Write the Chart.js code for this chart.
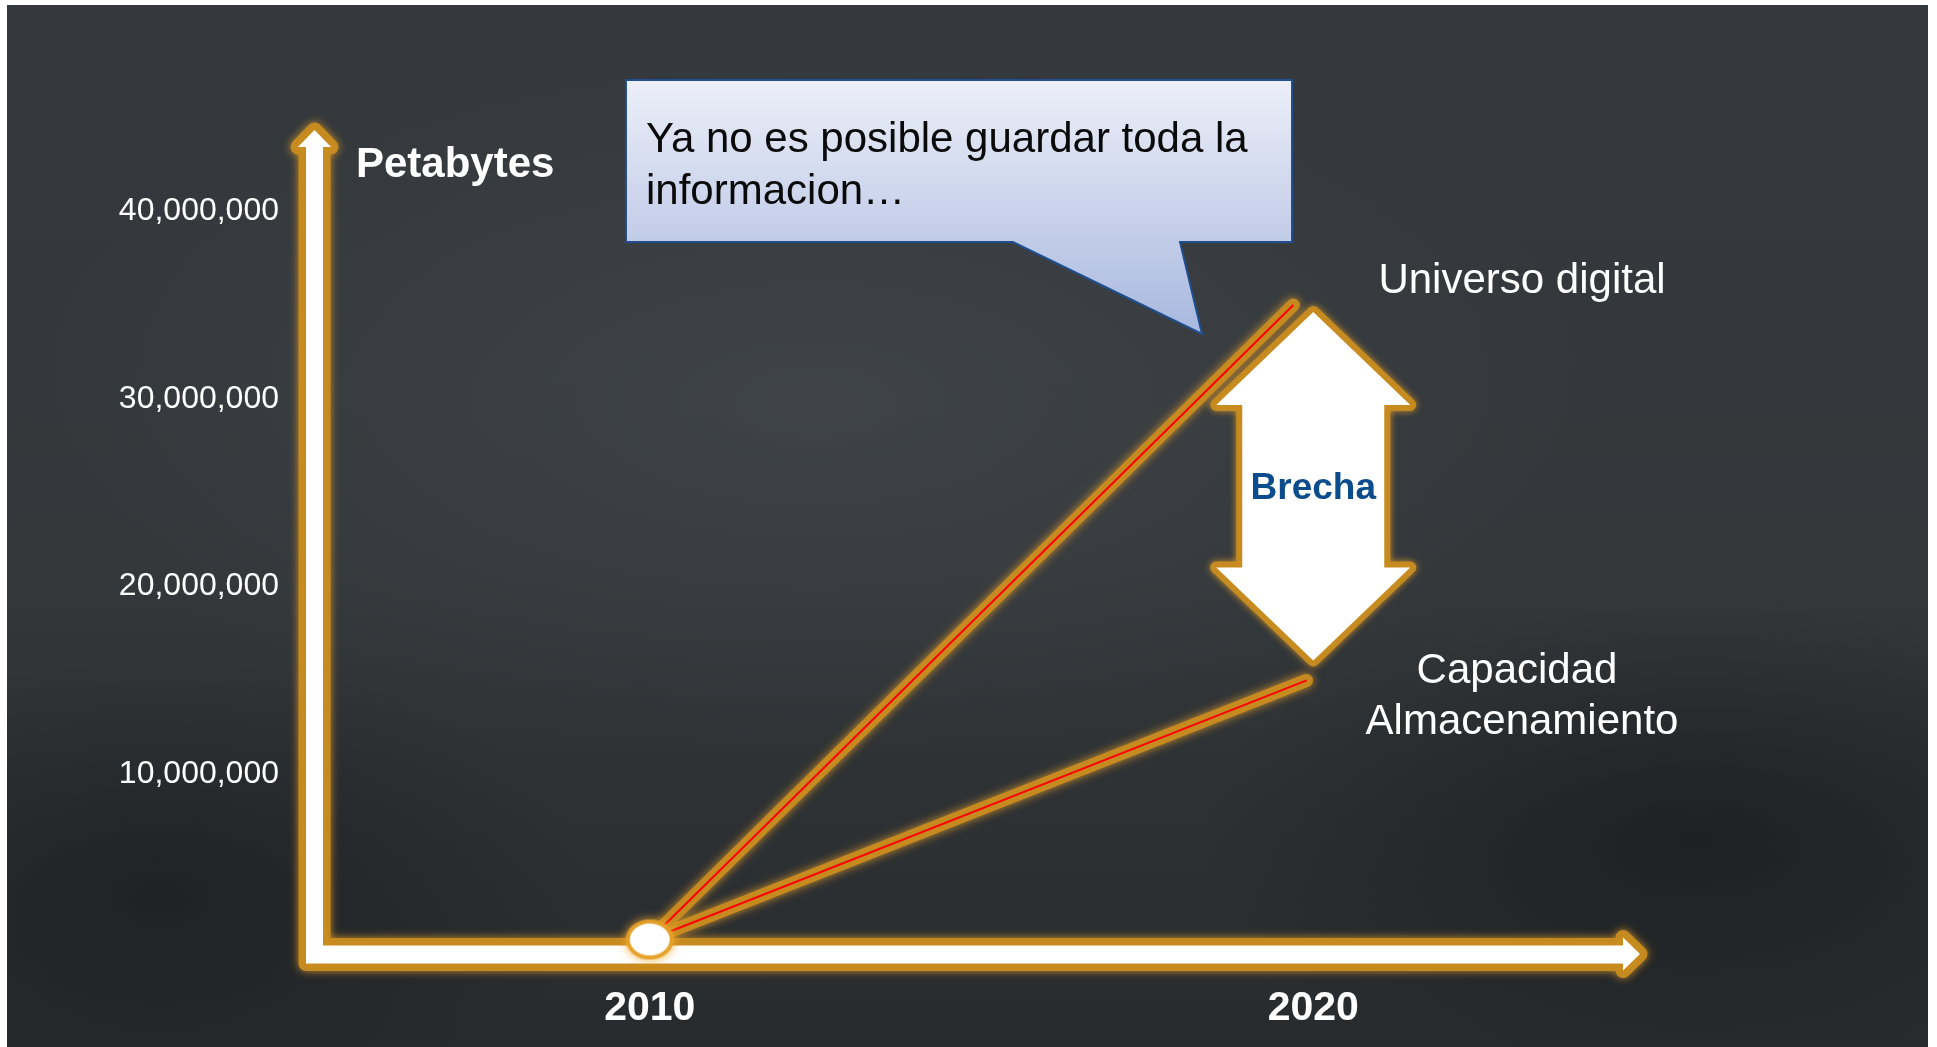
<!DOCTYPE html>
<html>
<head>
<meta charset="utf-8">
<title>Petabytes</title>
<script src="https://cdn.jsdelivr.net/npm/chart.js@4.4.1/dist/chart.umd.min.js"></script>
<style>
  html, body { margin: 0; padding: 0; background: #fff; overflow: hidden; }
  #board {
    position: absolute; left: 7px; top: 5px; width: 1921px; height: 1042px;
    background:
      radial-gradient(ellipse 55% 45% at 42% 38%, rgba(72,77,82,0.55), rgba(72,77,82,0) 75%),
      radial-gradient(ellipse 35% 30% at 88% 80%, rgba(18,20,22,0.55), rgba(18,20,22,0) 75%),
      radial-gradient(ellipse 30% 30% at 8% 85%, rgba(20,22,24,0.5), rgba(20,22,24,0) 75%),
      linear-gradient(180deg, #35393d 0%, #33373a 55%, #282b2e 100%);
  }
  #chart { position: absolute; left: 0; top: 0; }
</style>
</head>
<body>
<div id="board"></div>
<canvas id="chart" width="1937" height="1047"></canvas>
<script>
// values (petabytes)
const xTickYears = [2010, 2020];
const yTickValues = [10000000, 20000000, 30000000, 40000000];
const universoYears = [2010, 2019.7];
const universoPB = [1200000, 35000000];
const capacidadYears = [2010, 2019.9];
const capacidadPB = [1200000, 15000000];

const ORANGE = 'rgba(200,140,32,0.95)';
const FONT = '"Liberation Sans", Arial, sans-serif';

const toPoints = (xs, ys) => xs.map((x, i) => ({ x: x, y: ys[i] }));

// white dot with orange glow used as point style
const dot = document.createElement('canvas');
dot.width = 64; dot.height = 56;
(() => {
    const c = dot.getContext('2d');
    c.shadowColor = 'rgba(240,170,45,1)';
    c.shadowBlur = 10;
    c.beginPath();
    c.ellipse(32, 28, 20, 16, 0, 0, Math.PI * 2);
    c.strokeStyle = 'rgba(230,160,40,0.95)';
    c.lineWidth = 8;
    c.stroke();
    c.shadowBlur = 0;
    c.fillStyle = '#fff';
    c.fill();
})();

// shadow glow for datasets flagged with glow
const glowPlugin = {
    id: 'glow',
    beforeDatasetDraw(chart, args) {
        const ds = chart.data.datasets[args.index];
        if (ds.glow) {
            chart.ctx.save();
            chart.ctx.shadowColor = 'rgba(235,160,40,0.9)';
            chart.ctx.shadowBlur = 10;
        }
    },
    afterDatasetDraw(chart, args) {
        if (chart.data.datasets[args.index].glow) chart.ctx.restore();
    }
};

// the two white axis arrows
const axesArrows = {
    id: 'axesArrows',
    beforeDatasetsDraw(chart) {
        const { ctx, scales: { x, y } } = chart;
        const ax = x.left - 3.5;
        const ay = y.getPixelForValue(0) - 8;
        const top = y.top - 6, right = x.right - 5;
        const s = 8.5, h = 16.5, hl = 17;
        ctx.save();
        ctx.beginPath();
        ctx.moveTo(ax - s, ay + s + 1);
        ctx.lineTo(ax - s, top + hl);
        ctx.lineTo(ax - h, top + hl);
        ctx.lineTo(ax, top);
        ctx.lineTo(ax + h, top + hl);
        ctx.lineTo(ax + s, top + hl);
        ctx.lineTo(ax + s, ay - s);
        ctx.lineTo(right - hl, ay - s);
        ctx.lineTo(right - hl, ay - h);
        ctx.lineTo(right, ay);
        ctx.lineTo(right - hl, ay + h);
        ctx.lineTo(right - hl, ay + s + 1);
        ctx.closePath();
        ctx.lineJoin = 'round';
        ctx.shadowColor = 'rgba(230,160,40,0.9)';
        ctx.shadowBlur = 8;
        ctx.strokeStyle = ORANGE;
        ctx.lineWidth = 15;
        ctx.stroke();
        ctx.shadowBlur = 0;
        ctx.fillStyle = '#fff';
        ctx.fill();
        ctx.restore();
    }
};

// callout, gap arrow and labels
const annotations = {
    id: 'annotations',
    afterDraw(chart) {
        const { ctx, scales: { x, y } } = chart;
        ctx.save();

        // callout box
        ctx.beginPath();
        ctx.moveTo(626, 80);
        ctx.lineTo(1292, 80);
        ctx.lineTo(1292, 242);
        ctx.lineTo(1180, 242);
        ctx.lineTo(1202, 334);
        ctx.lineTo(1013, 242);
        ctx.lineTo(626, 242);
        ctx.closePath();
        const g = ctx.createLinearGradient(0, 80, 0, 334);
        g.addColorStop(0, '#eceff8');
        g.addColorStop(1, '#a8b8df');
        ctx.fillStyle = g;
        ctx.fill();
        ctx.strokeStyle = '#1f4f8f';
        ctx.lineWidth = 2;
        ctx.stroke();
        ctx.fillStyle = '#0a0a0a';
        ctx.font = '42px ' + FONT;
        ctx.textAlign = 'left';
        ctx.textBaseline = 'alphabetic';
        ctx.fillText('Ya no es posible guardar toda la', 646, 152);
        ctx.fillText('informacion\u2026', 646, 204);

        // double arrow between the two 2020 values
        const cx = x.getPixelForValue(2020);
        const tTop = y.getPixelForValue(universoPB[1]) + 7;
        const tBot = y.getPixelForValue(capacidadPB[1]) - 20;
        const hw = 97, sw = 71, hh = 93;
        ctx.beginPath();
        ctx.moveTo(cx, tTop);
        ctx.lineTo(cx + hw, tTop + hh);
        ctx.lineTo(cx + sw, tTop + hh);
        ctx.lineTo(cx + sw, tBot - hh);
        ctx.lineTo(cx + hw, tBot - hh);
        ctx.lineTo(cx, tBot);
        ctx.lineTo(cx - hw, tBot - hh);
        ctx.lineTo(cx - sw, tBot - hh);
        ctx.lineTo(cx - sw, tTop + hh);
        ctx.lineTo(cx - hw, tTop + hh);
        ctx.closePath();
        ctx.lineJoin = 'round';
        ctx.shadowColor = 'rgba(230,160,40,0.9)';
        ctx.shadowBlur = 7;
        ctx.strokeStyle = ORANGE;
        ctx.lineWidth = 12;
        ctx.stroke();
        ctx.shadowBlur = 0;
        ctx.fillStyle = '#fff';
        ctx.fill();
        ctx.fillStyle = '#0b4d8c';
        ctx.font = 'bold 37px ' + FONT;
        ctx.textAlign = 'center';
        ctx.fillText('Brecha', cx, (tTop + tBot) / 2 + 13);

        // labels
        ctx.fillStyle = '#ffffff';
        ctx.font = 'bold 42px ' + FONT;
        ctx.textAlign = 'left';
        ctx.fillText('Petabytes', 356, 177);
        ctx.font = '42px ' + FONT;
        ctx.textAlign = 'center';
        ctx.fillText('Universo digital', 1522, 293);
        ctx.fillText('Capacidad', 1517, 683);
        ctx.fillText('Almacenamiento', 1522, 734);
        ctx.restore();
    }
};

new Chart(document.getElementById('chart'), {
    type: 'line',
    data: {
        datasets: [
            {
                label: '2010',
                data: toPoints([universoYears[0]], [universoPB[0]]),
                showLine: false,
                pointStyle: dot,
                pointRadius: 20,
                clip: false
            },
            {
                label: 'Universo digital',
                data: toPoints(universoYears, universoPB),
                borderColor: '#ff0000',
                borderWidth: 2,
                pointRadius: 0,
                clip: false
            },
            {
                label: 'Capacidad Almacenamiento',
                data: toPoints(capacidadYears, capacidadPB),
                borderColor: '#ff0000',
                borderWidth: 2,
                pointRadius: 0,
                clip: false
            },
            {
                label: 'glow universo',
                data: toPoints(universoYears, universoPB),
                borderColor: ORANGE,
                borderWidth: 13,
                borderCapStyle: 'round',
                pointRadius: 0,
                glow: true,
                clip: false
            },
            {
                label: 'glow capacidad',
                data: toPoints(capacidadYears, capacidadPB),
                borderColor: ORANGE,
                borderWidth: 13,
                borderCapStyle: 'round',
                pointRadius: 0,
                glow: true,
                clip: false
            }
        ]
    },
    options: {
        responsive: false,
        devicePixelRatio: 1,
        animation: false,
        layout: { padding: { top: 136, right: 292, left: 0, bottom: 0 } },
        plugins: {
            legend: { display: false },
            tooltip: { enabled: false }
        },
        scales: {
            x: {
                type: 'linear',
                min: 2005,
                max: 2025,
                afterBuildTicks: scale => { scale.ticks = xTickYears.map(v => ({ value: v })); },
                afterFit: scale => { scale.height = 85; },
                grid: { display: false, drawTicks: false },
                border: { display: false },
                ticks: {
                    color: '#ffffff',
                    padding: 22,
                    maxRotation: 0,
                    font: { family: FONT, size: 41, weight: 'bold' },
                    callback: v => String(v)
                }
            },
            y: {
                type: 'linear',
                min: 0,
                max: 44000000,
                afterBuildTicks: scale => { scale.ticks = yTickValues.map(v => ({ value: v })); },
                afterFit: scale => { scale.width = 318; },
                grid: { display: false, drawTicks: false },
                border: { display: false },
                ticks: {
                    color: '#ffffff',
                    padding: 39,
                    font: { family: FONT, size: 32 },
                    callback: v => v.toLocaleString('en-US')
                }
            }
        }
    },
    plugins: [glowPlugin, axesArrows, annotations]
});
</script>
</body>
</html>
